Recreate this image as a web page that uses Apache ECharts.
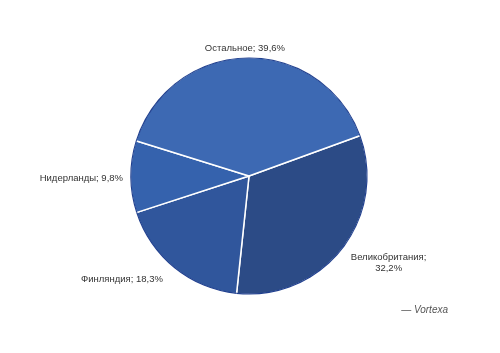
<!DOCTYPE html>
<html><head><meta charset="utf-8">
<script src="https://cdn.jsdelivr.net/npm/echarts@6/dist/echarts.min.js"></script>
<style>html,body{margin:0;padding:0;background:#fff}#c{width:500px;height:353px}</style>
</head><body><div id="c"></div>
<script>
const categories = ['Великобритания', 'Финляндия', 'Нидерланды', 'Остальное'];
const values = [32.2, 18.3, 9.8, 39.6];
const colors = ['#2c4b86', '#30569c', '#3562ad', '#3d69b3'];
const labelTexts = ['Великобритания;\n32,2%', 'Финляндия; 18,3%', 'Нидерланды; 9,8%', 'Остальное; 39,6%'];
const sourceText = '— Vortexa';

const chart = echarts.init(document.getElementById('c'), null, {renderer: 'canvas'});
const data = categories.map((c, i) => ({
  name: c, value: values[i],
  itemStyle: {color: colors[i]},
  label: {formatter: labelTexts[i]}
}));
chart.setOption({
  animation: false,
  backgroundColor: '#fff',
  graphic: [{
    type: 'text', right: 52, top: 305,
    style: {text: sourceText, font: 'italic 10px "Liberation Sans"', fill: '#555'}
  }],
  series: [{
    type: 'pie',
    center: [249, 176],
    radius: 118.5,
    startAngle: 20,
    clockwise: true,
    itemStyle: {borderColor: '#fff', borderWidth: 1.5},
    label: {
      show: true, position: 'outside',
      fontFamily: 'Liberation Sans', fontSize: 9.5, color: '#333', lineHeight: 11,
      distanceToLabelLine: 0
    },
    labelLine: {show: false, length: 12, length2: 0},
    labelLayout: function (p) {
      const r = p.labelRect;
      const cy = r.y + r.height / 2;
      if (p.dataIndex === 3) return {x: r.x + r.width - 1, y: cy + 3, align: 'center', verticalAlign: 'middle'};
      if (p.dataIndex === 0) return {x: r.x + r.width / 2 - 1, y: cy + 6, align: 'center', verticalAlign: 'middle'};
      if (p.dataIndex === 2) return {x: r.x + r.width + 4.5, y: cy + 2, align: 'right', verticalAlign: 'middle'};
      if (p.dataIndex === 1) return {x: r.x + r.width - 4, y: cy + 2, align: 'right', verticalAlign: 'middle'};
      return {};
    },
    emphasis: {disabled: true},
    data: data
  }, {
    type: 'pie',
    center: [249, 176],
    radius: [117.5, 118.6],
    startAngle: 20,
    silent: true,
    label: {show: false}, labelLine: {show: false},
    itemStyle: {color: '#21408f', borderWidth: 0},
    emphasis: {disabled: true},
    data: categories.map((c, i) => ({name: c, value: values[i]}))
  }]
});
</script></body></html>
